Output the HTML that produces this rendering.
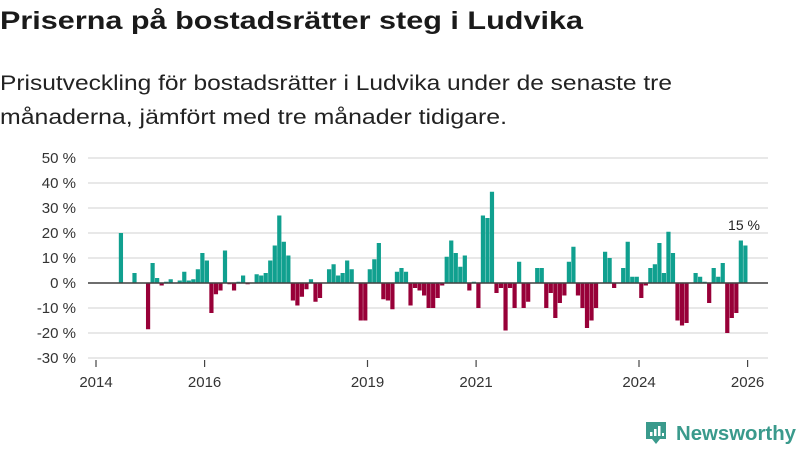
<!DOCTYPE html>
<html><head><meta charset="utf-8"><style>
html,body{margin:0;padding:0;background:#fff;}
svg{display:block;font-family:"Liberation Sans",sans-serif;}
</style></head><body>
<svg id="chart" width="800" height="450" viewBox="0 0 800 450" xmlns="http://www.w3.org/2000/svg">
<text x="0" y="29" font-size="25" font-weight="bold" fill="#1a1a1a" textLength="583" lengthAdjust="spacingAndGlyphs">Priserna på bostadsrätter steg i Ludvika</text>
<text x="0" y="90" font-size="21" fill="#222" textLength="672" lengthAdjust="spacingAndGlyphs">Prisutveckling för bostadsrätter i Ludvika under de senaste tre</text>
<text x="0" y="124" font-size="21" fill="#222" textLength="507" lengthAdjust="spacingAndGlyphs">månaderna, jämfört med tre månader tidigare.</text>
<g id="grid"></g><g id="bars"></g><g id="axes"></g>
<text x="744" y="230" font-size="14" fill="#222" text-anchor="middle">15 %</text>
<g>
<path d="M646 422 h20 v17 h-6 l-4 5 l-4 -5 h-6 z" fill="#3a9a8c"/>
<rect x="650" y="432" width="2.5" height="4" fill="#fff"/><rect x="654" y="429" width="2.5" height="7" fill="#fff"/><rect x="658" y="426" width="2.5" height="10" fill="#fff"/><rect x="662" y="433" width="2" height="3" fill="#fff"/>
<text x="676" y="440" font-size="20" font-weight="bold" fill="#3a9a8c" textLength="120" lengthAdjust="spacingAndGlyphs">Newsworthy</text>
</g>
</svg>
<script>
const startIndex = 0;
const values = [null,null,null,null,null,20,null,null,4,null,null,-18.5,8,2,-1,0.5,1.5,null,1,4.5,1,1.5,5.5,12,9,-12,-4.5,-3,13,-0.5,-3,0.5,3,-0.5,null,3.5,3,4,9,15,27,16.5,11,-7,-9,-5.5,-2.5,1.5,-7.5,-6,null,5.5,7.5,3,4,9,5.5,null,-15,-15,5.5,9.5,16,-6.5,-7,-10.5,4.5,6,4.5,-9,-2,-3,-5,-10,-10,-6,-1,10.5,17,12,6.5,11,-3,0.5,-10,27,26,36.5,-4,-2,-19,-2,-10,8.5,-10,-7.5,null,6,6,-10,-4,-14,-8,-5,8.5,14.5,-5,-10,-18,-15,-10,null,12.5,10,-2,null,6,16.5,2.5,2.5,-6,-1,6,7.5,16,4,20.5,12,-15,-17,-16,null,4,2.5,0.5,-8,6,2.5,8,-20,-14,-12,17,15];
const yTicks = [-30,-20,-10,0,10,20,30,40,50];
const xTickYears = [2014,2016,2019,2021,2024,2026];
const NS="http://www.w3.org/2000/svg";
const x = m => 96 + m*4.525;
const y = v => 283 - v*2.5;
const grid=document.getElementById('grid'), bars=document.getElementById('bars'), axes=document.getElementById('axes');
yTicks.forEach(t=>{
  const l=document.createElementNS(NS,'line');
  l.setAttribute('x1',88);l.setAttribute('x2',768);l.setAttribute('y1',y(t));l.setAttribute('y2',y(t));
  l.setAttribute('stroke','#e0e0e0');l.setAttribute('stroke-width','1.5');
  
  
  grid.appendChild(l);
  const tx=document.createElementNS(NS,'text');
  tx.setAttribute('x',76);tx.setAttribute('y',y(t)+5);tx.setAttribute('text-anchor','end');
  tx.setAttribute('font-size','15');tx.setAttribute('fill','#333');
  tx.textContent=t+' %';
  
  
  axes.appendChild(tx);
});
values.forEach((v,i)=>{
  if(v===null) return;
  const m=startIndex+i;
  const r=document.createElementNS(NS,'rect');
  r.setAttribute('x',x(m)+0.2);r.setAttribute('width',4.2);
  r.setAttribute('y',Math.min(y(v),y(0)));r.setAttribute('height',Math.abs(y(v)-y(0)));
  r.setAttribute('fill',v>=0?'#10a08f':'#980038');
  
  
  bars.appendChild(r);
});
const zl=document.createElementNS(NS,'line');
zl.setAttribute('x1',88);zl.setAttribute('x2',768);zl.setAttribute('y1',y(0));zl.setAttribute('y2',y(0));
zl.setAttribute('stroke','#444');zl.setAttribute('stroke-width','1.5');


axes.appendChild(zl);
xTickYears.forEach(yr=>{
  const px=x((yr-2014)*12);
  const tk=document.createElementNS(NS,'line');
  tk.setAttribute('x1',px);tk.setAttribute('x2',px);tk.setAttribute('y1',360);tk.setAttribute('y2',367);
  tk.setAttribute('stroke','#444');tk.setAttribute('stroke-width','1.2');
  
  
  axes.appendChild(tk);
  const tx=document.createElementNS(NS,'text');
  tx.setAttribute('x',px);tx.setAttribute('y',387);tx.setAttribute('text-anchor','middle');
  tx.setAttribute('font-size','15');tx.setAttribute('fill','#333');
  tx.textContent=yr;
  
  
  axes.appendChild(tx);
});
</script>
</body></html>
